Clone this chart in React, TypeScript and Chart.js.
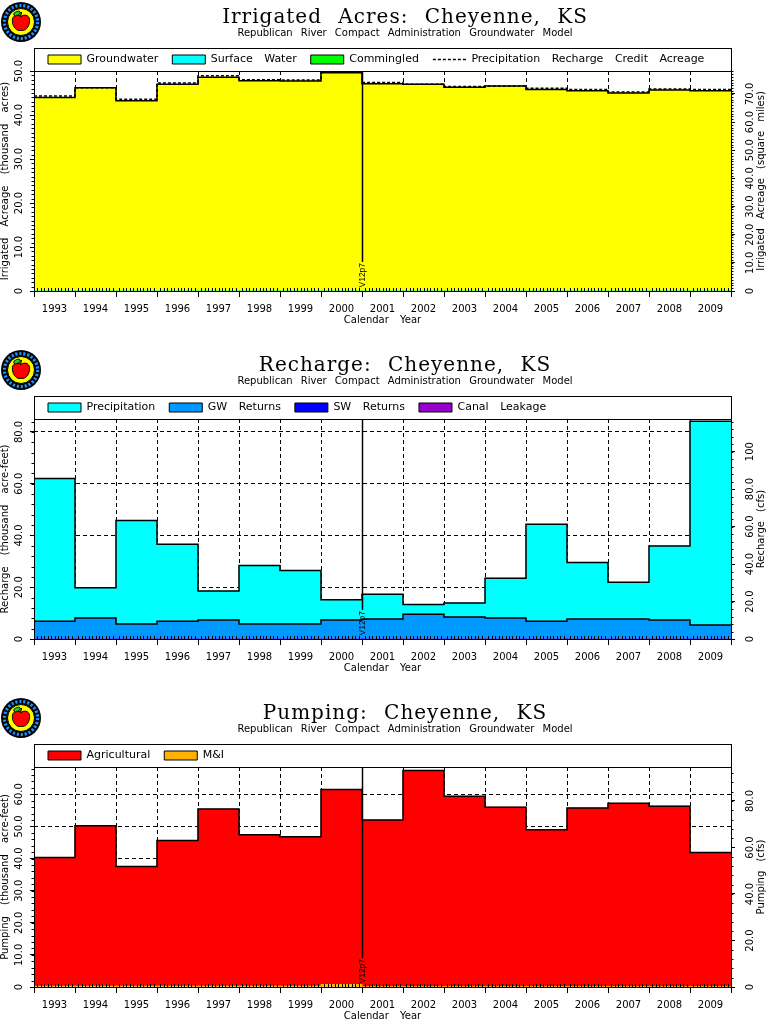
import React, { useEffect, useRef } from 'react';
import { Chart, registerables } from 'chart.js';

Chart.register(...registerables);

const SANS = '"DejaVu Sans", sans-serif';
Chart.defaults.font.family = SANS;
Chart.defaults.color = '#000';

// ---------------- data ----------------
const years = ['1993', '1994', '1995', '1996', '1997', '1998', '1999', '2000', '2001', '2002', '2003', '2004', '2005', '2006', '2007', '2008', '2009'];

// Irrigated acres (thousand acres)
const groundwaterAcres = [44.0, 46.2, 43.25, 47.0, 48.6, 47.8, 47.7, 49.6, 47.1, 47.0, 46.3, 46.6, 45.8, 45.5, 45.0, 45.7, 45.5];
const surfaceWaterAcres = [0, 0, 0, 0, 0, 0, 0, 0, 0, 0, 0, 0, 0, 0, 0, 0, 0];
const commingledAcres = [0, 0, 0, 0, 0, 0, 0, 0, 0, 0, 0, 0, 0, 0, 0, 0, 0];
const creditAcres = [44.3, 46.2, 43.6, 47.3, 48.9, 48.0, 47.95, 49.9, 47.4, 47.0, 46.5, 46.6, 46.1, 45.8, 45.2, 45.9, 45.8];

// Recharge (thousand acre-feet)
const precipRecharge = [55.1, 11.7, 40.0, 29.7, 11.2, 22.6, 20.7, 7.9, 9.6, 3.7, 5.4, 15.4, 37.4, 21.9, 14.2, 28.6, 78.7];
const gwReturns = [6.9, 8.1, 5.8, 6.9, 7.3, 5.8, 5.8, 7.3, 7.7, 9.6, 8.5, 8.1, 6.9, 7.7, 7.7, 7.3, 5.4];
const swReturns = [0, 0, 0, 0, 0, 0, 0, 0, 0, 0, 0, 0, 0, 0, 0, 0, 0];
const canalLeakage = [0, 0, 0, 0, 0, 0, 0, 0, 0, 0, 0, 0, 0, 0, 0, 0, 0];

// Pumping (thousand acre-feet)
const agriculturalPumping = [40.0, 49.9, 37.2, 45.3, 55.1, 47.1, 46.5, 60.7, 51.8, 67.2, 59.2, 55.8, 48.8, 55.5, 57.0, 56.1, 41.7];
const miPumping = [0.3, 0.3, 0.3, 0.3, 0.3, 0.3, 0.3, 0.8, 0.2, 0.2, 0.2, 0.2, 0.2, 0.2, 0.2, 0.2, 0.2];

// tick values
const irrLeftTicks = [0, 10, 20, 30, 40, 50];
const irrRightTicks = [0, 10, 20, 30, 40, 50, 60, 70];
const rechLeftTicks = [0, 20, 40, 60, 80];
const rechRightTicks = [0, 20, 40, 60, 80, 100];
const pumpLeftTicks = [0, 10, 20, 30, 40, 50, 60];
const pumpRightTicks = [0, 20, 40, 60, 80];

const SQMI_PER_KAC = 1000 / 640; // square miles per thousand acres
const CFS_PER_KAF = 1.3813; // cfs per thousand acre-feet per year

const SUBTITLE = 'Republican River Compact Administration Groundwater Model';
const MARKER_YEAR = '2000';
const MARKER_LABEL = 'V12p7';

// ---------------- styling constants ----------------
const PANEL_H = 348;
const LEGEND_STRIP = 23;
const LEGEND_PAD = 14;
const LEGEND_FONT = 11;

const fmt = (v: number) => (v === 0 ? '0' : v >= 100 ? v.toFixed(0) : v.toFixed(1));

const bar = (label: string, data: number[], color: string, outline: boolean) => ({
  type: 'bar',
  label,
  data,
  backgroundColor: color,
  borderWidth: 0,
  barPercentage: 1,
  categoryPercentage: 1,
  grouped: false,
  xAxisID: 'x',
  yAxisID: 'y',
  outline,
});

const stepLine = (label: string, values: number[]) => ({
  type: 'line',
  label,
  data: [
    ...values.map((v, i) => ({ x: i - 0.5, y: v })),
    { x: values.length - 0.5, y: values[values.length - 1] },
  ],
  xAxisID: 'x2',
  yAxisID: 'y',
  stepped: 'before',
  borderColor: '#000',
  borderWidth: 1.5,
  borderDash: [3, 2],
  backgroundColor: 'rgba(0,0,0,0)',
  pointRadius: 0,
  fill: false,
});

interface Spec {
  title: string;
  yTitle: string;
  rightTitle: string;
  yMax: number;
  factor: number;
  leftTicks: number[];
  rightTicks: number[];
  leftMinor: number;
  rightMinor: number;
  datasets: any[];
}

const specs: Spec[] = [
  {
    title: 'Irrigated Acres: Cheyenne, KS',
    yTitle: 'Irrigated Acreage (thousand acres)',
    rightTitle: 'Irrigated Acreage (square miles)',
    yMax: 50,
    factor: SQMI_PER_KAC,
    leftTicks: irrLeftTicks,
    rightTicks: irrRightTicks,
    leftMinor: 1,
    rightMinor: 1,
    datasets: [
      stepLine('Precipitation Recharge Credit Acreage', creditAcres),
      bar('Commingled', commingledAcres, '#00FF00', false),
      bar('Surface Water', surfaceWaterAcres, '#00FFFF', false),
      bar('Groundwater', groundwaterAcres, '#FFFF00', true),
    ],
  },
  {
    title: 'Recharge: Cheyenne, KS',
    yTitle: 'Recharge (thousand acre-feet)',
    rightTitle: 'Recharge (cfs)',
    yMax: 85,
    factor: CFS_PER_KAF,
    leftTicks: rechLeftTicks,
    rightTicks: rechRightTicks,
    leftMinor: 4,
    rightMinor: 4,
    datasets: [
      bar('Canal Leakage', canalLeakage, '#9900CC', false),
      bar('SW Returns', swReturns, '#0000FF', false),
      bar('GW Returns', gwReturns, '#0099FF', true),
      bar('Precipitation', precipRecharge, '#00FFFF', true),
    ],
  },
  {
    title: 'Pumping: Cheyenne, KS',
    yTitle: 'Pumping (thousand acre-feet)',
    rightTitle: 'Pumping (cfs)',
    yMax: 68.5,
    factor: CFS_PER_KAF,
    leftTicks: pumpLeftTicks,
    rightTicks: pumpRightTicks,
    leftMinor: 2,
    rightMinor: 4,
    datasets: [
      bar('M&I', miPumping, '#FFB300', false),
      bar('Agricultural', agriculturalPumping, '#FF0000', true),
    ],
  },
];

// ---------------- plugin ----------------
const LEGEND_WORD_SPACING = '8px';
const AXIS_WORD_SPACING = '6px';

const decorPlugin: any = {
  id: 'decor',
  beforeLayout(chart: any) {
    chart.ctx.wordSpacing = LEGEND_WORD_SPACING;
    const legend = chart.legend;
    if (legend && !legend.__stripPatched) {
      legend.__stripPatched = true;
      const origFit = legend.fit.bind(legend);
      legend.fit = function () {
        origFit();
        this.height = LEGEND_STRIP;
      };
      const origDraw = legend.draw.bind(legend);
      const shift = LEGEND_PAD + LEGEND_FONT / 2 - LEGEND_STRIP / 2;
      legend.draw = function () {
        const t = this.top;
        this.top = t - shift;
        origDraw();
        this.top = t;
      };
    }
  },
  beforeDraw(chart: any) {
    chart.ctx.wordSpacing = LEGEND_WORD_SPACING;
  },
  afterDatasetsDraw(chart: any) {
    const ctx = chart.ctx;
    ctx.save();
    ctx.strokeStyle = '#000';
    ctx.lineWidth = 1.5;
    ctx.setLineDash([]);
    chart.data.datasets.forEach((ds: any, di: number) => {
      if (!ds.outline) return;
      const meta = chart.getDatasetMeta(di);
      ctx.beginPath();
      meta.data.forEach((el: any, i: number) => {
        const p = el.getProps(['x', 'y', 'width'], true);
        const l = p.x - p.width / 2;
        const r = p.x + p.width / 2;
        if (i === 0) ctx.moveTo(l, p.y);
        else ctx.lineTo(l, p.y);
        ctx.lineTo(r, p.y);
      });
      ctx.stroke();
    });
    ctx.restore();
    ctx.wordSpacing = AXIS_WORD_SPACING;
  },
  afterDraw(chart: any, _args: any, opts: any) {
    const { ctx, chartArea: a, scales } = chart;
    const xs = scales.x;
    const ys = scales.y;
    const y1 = scales.y1;
    ctx.save();
    ctx.strokeStyle = '#000';
    ctx.fillStyle = '#000';
    ctx.lineWidth = 1;
    ctx.setLineDash([]);
    ctx.beginPath();
    const slot = xs.getPixelForValue(1) - xs.getPixelForValue(0);
    for (let i = 0; i < years.length; i++) {
      const left = xs.getPixelForValue(i) - slot / 2;
      for (let m = 1; m < 12; m++) {
        const x = Math.round(left + (m * slot) / 12) + 0.5;
        ctx.moveTo(x, a.bottom);
        ctx.lineTo(x, a.bottom - 3);
      }
    }
    for (let v = 0; v <= ys.max + 1e-9; v += opts.leftMinor) {
      const y = Math.round(ys.getPixelForValue(v)) + 0.5;
      ctx.moveTo(a.left, y);
      ctx.lineTo(a.left - 2.5, y);
    }
    for (let v = 0; v <= y1.max + 1e-9; v += opts.rightMinor) {
      const y = Math.round(y1.getPixelForValue(v)) + 0.5;
      ctx.moveTo(a.right, y);
      ctx.lineTo(a.right + 2.5, y);
    }
    ctx.stroke();

    // model version marker
    const mi = years.indexOf(opts.markerYear);
    const mx = Math.round((xs.getPixelForValue(mi) + xs.getPixelForValue(mi + 1)) / 2) + 0.5;
    ctx.font = '8.5px "Liberation Sans", sans-serif';
    const tw = ctx.measureText(opts.markerLabel).width;
    const textBottom = a.bottom - 3.5;
    ctx.lineWidth = 1.5;
    ctx.beginPath();
    ctx.moveTo(mx, a.top);
    ctx.lineTo(mx, textBottom - tw - 1);
    ctx.stroke();
    ctx.save();
    ctx.translate(mx, textBottom);
    ctx.rotate(-Math.PI / 2);
    ctx.textAlign = 'left';
    ctx.textBaseline = 'middle';
    ctx.fillText(opts.markerLabel, 0, 0);
    ctx.restore();

    // right axis title (reads bottom to top)
    ctx.font = `10px ${SANS}`;
    ctx.wordSpacing = AXIS_WORD_SPACING;
    ctx.save();
    ctx.translate(y1.right - 6.5, (a.top + a.bottom) / 2);
    ctx.rotate(-Math.PI / 2);
    ctx.textAlign = 'center';
    ctx.textBaseline = 'middle';
    ctx.fillText(opts.rightTitle, 0, 0);
    ctx.restore();

    // frame around legend and plot
    ctx.lineWidth = 1;
    const L = a.left + 0.5;
    const R = a.right + 0.5;
    const T = a.top - LEGEND_STRIP + 0.5;
    const B = a.bottom + 0.5;
    ctx.strokeRect(L, T, R - L, B - T);
    ctx.beginPath();
    ctx.moveTo(L, a.top + 0.5);
    ctx.lineTo(R, a.top + 0.5);
    ctx.stroke();
    ctx.restore();
  },
};

function buildConfig(spec: Spec): any {
  const tickFont = { family: SANS, size: 10, lineHeight: 1 };
  return {
    type: 'bar',
    data: { labels: years, datasets: spec.datasets },
    plugins: [decorPlugin],
    options: {
      responsive: false,
      animation: false,
      events: [],
      layout: { padding: { top: 71 - LEGEND_STRIP, left: 0, right: 0, bottom: 0 } },
      scales: {
        x: {
          type: 'category',
          stacked: true,
          offset: true,
          z: 1,
          grid: { offset: true, color: '#000', lineWidth: 1, drawTicks: true, tickLength: 6, tickColor: '#000', tickWidth: 1 },
          border: { display: false, dash: [4, 3] },
          ticks: { color: '#000', font: tickFont, padding: 7, maxRotation: 0, autoSkip: false },
          title: { display: true, text: 'Calendar Year', color: '#000', font: tickFont, padding: { top: 0, bottom: 23 } },
          afterFit: (s: any) => {
            s.height = PANEL_H - 291;
          },
        },
        x2: { type: 'linear', display: false, min: -0.5, max: years.length - 0.5, offset: false },
        y: {
          type: 'linear',
          position: 'left',
          stacked: true,
          min: 0,
          max: spec.yMax,
          z: 1,
          afterBuildTicks: (s: any) => {
            s.ticks = spec.leftTicks.map((value) => ({ value }));
          },
          grid: { color: '#000', lineWidth: 1, tickLength: 4, tickColor: '#000' },
          border: { display: false, dash: [4, 3] },
          ticks: {
            color: '#000',
            font: tickFont,
            padding: -1,
            minRotation: 90,
            maxRotation: 90,
            crossAlign: 'center',
            autoSkip: false,
            callback: (v: any) => fmt(Number(v)),
          },
          title: { display: true, text: spec.yTitle, color: '#000', font: tickFont, padding: { top: 0, bottom: 0 } },
          afterFit: (s: any) => {
            s.width = 34;
          },
        },
        y1: {
          type: 'linear',
          position: 'right',
          min: 0,
          max: spec.yMax * spec.factor,
          z: 1,
          afterBuildTicks: (s: any) => {
            s.ticks = spec.rightTicks.map((value) => ({ value }));
          },
          grid: { drawOnChartArea: false, color: '#000', tickLength: 4, tickColor: '#000' },
          border: { display: false },
          ticks: {
            color: '#000',
            font: tickFont,
            padding: 4,
            minRotation: 90,
            maxRotation: 90,
            crossAlign: 'center',
            autoSkip: false,
            callback: (v: any) => fmt(Number(v)),
          },
          afterFit: (s: any) => {
            s.width = 37;
          },
        },
      },
      plugins: {
        tooltip: { enabled: false },
        title: { display: false },
        legend: {
          display: true,
          position: 'top',
          align: 'start',
          fullSize: false,
          reverse: true,
          labels: {
            color: '#000',
            font: { family: SANS, size: LEGEND_FONT },
            padding: LEGEND_PAD,
            boxWidth: 33,
            boxHeight: 9,
            usePointStyle: true,
            pointStyleWidth: 33,
            generateLabels: (chart: any) => {
              const base = (Chart.defaults.plugins.legend.labels as any).generateLabels(chart);
              return base.map((item: any) => {
                const ds: any = chart.data.datasets[item.datasetIndex];
                if (ds.type === 'line') {
                  return { ...item, pointStyle: 'line', fillStyle: 'rgba(0,0,0,0)', strokeStyle: '#000', lineWidth: 1.5, lineDash: [3, 2], fontColor: '#000' };
                }
                return { ...item, pointStyle: 'rect', fillStyle: ds.backgroundColor, strokeStyle: '#000', lineWidth: 1, lineDash: [], fontColor: '#000' };
              });
            },
          },
        },
        decor: {
          leftMinor: spec.leftMinor,
          rightMinor: spec.rightMinor,
          rightTitle: spec.rightTitle,
          markerYear: MARKER_YEAR,
          markerLabel: MARKER_LABEL,
        },
      },
    },
  };
}

function Logo() {
  return (
    <svg width={42} height={42} viewBox="0 0 42 42" style={{ position: 'absolute', left: 0, top: 1 }}>
      <circle cx={21} cy={21} r={20} fill="#000" />
      <circle cx={21} cy={21} r={16.6} fill="none" stroke="#1E8FFF" strokeWidth={3.2} strokeDasharray="2.2 1.8" />
      <circle cx={21} cy={21} r={13.5} fill="#FFFF00" stroke="#000" strokeWidth={1} />
      <path
        d="M21 15.5 C17 12.5 11.8 14.5 12.4 20.5 C13 26.5 17 30.5 21 29.3 C25 30.5 29 26.5 29.6 20.5 C30.2 14.5 25 12.5 21 15.5 Z"
        fill="#FF0000"
        stroke="#000"
        strokeWidth={1}
      />
      <path d="M20.5 15.5 L21.5 11" stroke="#000" strokeWidth={1.2} />
      <ellipse cx={17} cy={12.5} rx={3.6} ry={2} fill="#22CC22" stroke="#000" strokeWidth={0.8} transform="rotate(-25 17 12.5)" />
    </svg>
  );
}

function Panel({ spec, top }: { spec: Spec; top: number }) {
  const ref = useRef<HTMLCanvasElement>(null);
  useEffect(() => {
    if (!ref.current) return;
    const chart = new Chart(ref.current, buildConfig(spec));
    return () => chart.destroy();
  }, [spec]);
  return (
    <div style={{ position: 'absolute', left: 0, top, width: 768, height: PANEL_H }}>
      <canvas ref={ref} width={768} height={PANEL_H} style={{ position: 'absolute', left: 0, top: 0, width: 768, height: PANEL_H }} />
      <Logo />
      <div
        style={{
          position: 'absolute',
          left: 0,
          width: 810,
          top: 6,
          textAlign: 'center',
          fontFamily: '"DejaVu Serif", serif',
          fontSize: 20,
          lineHeight: '20px',
          letterSpacing: '1px',
          wordSpacing: '9px',
          whiteSpace: 'nowrap',
          color: '#000',
        }}
      >
        {spec.title}
      </div>
      <div
        style={{
          position: 'absolute',
          left: 0,
          width: 810,
          top: 27.5,
          textAlign: 'center',
          fontFamily: SANS,
          fontSize: 10,
          lineHeight: '10px',
          wordSpacing: '5px',
          whiteSpace: 'nowrap',
          color: '#000',
        }}
      >
        {SUBTITLE}
      </div>
    </div>
  );
}

export default function App() {
  return (
    <div style={{ position: 'absolute', left: 0, top: 0, width: 768, height: 1024, overflow: 'hidden', background: '#fff' }}>
      {specs.map((s, i) => (
        <Panel key={i} spec={s} top={i * PANEL_H} />
      ))}
    </div>
  );
}
